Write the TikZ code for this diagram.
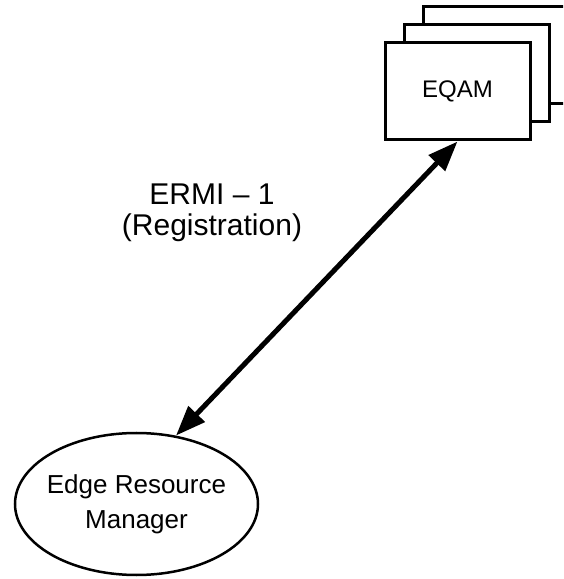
\documentclass[tikz,border=0pt]{standalone}
\usepackage{fontspec}
\setmainfont{Liberation Sans}
\usetikzlibrary{arrows.meta, shapes.geometric}

\begin{document}
\begin{tikzpicture}[x=1pt, y=1pt,
    card/.style={draw, line width=3pt, fill=white, inner sep=0pt,
        minimum width=145pt, minimum height=97pt},
    link/.style={arrows={Triangle[length=30pt, width=22pt]-Triangle[length=30pt, width=22pt]},
        line width=5pt}]
\useasboundingbox (0,0) rectangle (563,579);
\clip (0,0) rectangle (563,579);
\node[card] (back) at (495.5,523.5) {};
\node[card] (middle) at (476.5,505.5) {};
\node[card, font=\fontsize{24}{28}\selectfont] (eqam) at (457.5,487.5) {EQAM};
\node[draw, ellipse, line width=2.5pt, minimum width=243pt, minimum height=142pt]
    (erm) at (136.5,75) {};
\node[align=center, font=\fontsize{26}{35}\selectfont] (ermtext) at (erm.center)
    {Edge Resource\\Manager};
\draw[link] (erm.60) -- (eqam.south);
\node[align=center, font=\fontsize{30}{31}\selectfont] (ermi) at (212,366)
    {ERMI -- 1\\(Registration)};
\end{tikzpicture}
\end{document}
